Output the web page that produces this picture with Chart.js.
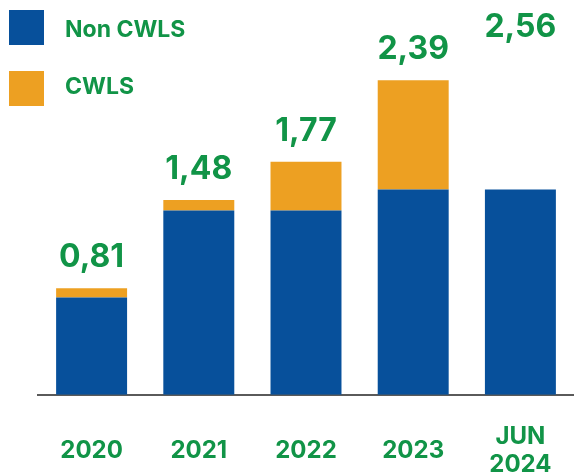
<!DOCTYPE html>
<html>
<head>
<meta charset="utf-8">
<script src="https://cdn.jsdelivr.net/npm/chart.js@4/dist/chart.umd.min.js"></script>
<style>
  html, body { margin: 0; padding: 0; background: #fff; overflow: hidden; width: 574px; height: 472px; }
  #wrap { position: absolute; left: 0; top: 0; width: 574px; height: 534px; }
  #legend { position: absolute; left: 0; top: 0; z-index: 2; font-family: Inter, Roboto, sans-serif; font-weight: 700; font-size: 23px; color: #119447; }
  .item { position: absolute; left: 9px; white-space: nowrap; }
  .sw { position: absolute; left: 0; top: 0; width: 35px; height: 35px; }
  .lbl { position: absolute; left: 56px; line-height: 35px; top: 0; }
</style>
</head>
<body>
<div id="wrap"><canvas id="c"></canvas></div>
<div id="legend"></div>
<script>
const categories = ['2020', '2021', '2022', '2023', ['JUN', '2024']];
const seriesNames = ['Non CWLS', 'CWLS'];
const nonCwls = [0.74, 1.40, 1.40, 1.56, 1.56];
const cwls = [0.07, 0.08, 0.37, 0.83, 1.00];
const totalLabels = ['0,81', '1,48', '1,77', '2,39', '2,56'];

const BLUE = '#07509b';
const ORANGE = '#eda022';
const GREEN = '#119447';

// legend
const legendEl = document.getElementById('legend');
const legendColors = [BLUE, ORANGE];
const legendTops = [10, 71];
const textShift = [2, -2];
seriesNames.forEach((n, i) => {
  const it = document.createElement('div');
  it.className = 'item';
  it.style.top = legendTops[i] + 'px';
  const sw = document.createElement('div');
  sw.className = 'sw';
  sw.style.background = legendColors[i];
  const lb = document.createElement('div');
  lb.className = 'lbl';
  lb.style.top = textShift[i] + 'px';
  lb.textContent = n;
  it.appendChild(sw); it.appendChild(lb);
  legendEl.appendChild(it);
});

const totalsPlugin = {
  id: 'totals',
  afterDatasetsDraw(chart) {
    const ctx = chart.ctx;
    const meta = chart.getDatasetMeta(chart.data.datasets.length - 1);
    ctx.save();
    ctx.font = '700 32px Inter, Roboto, sans-serif';
    ctx.fillStyle = GREEN;
    ctx.textAlign = 'center';
    ctx.textBaseline = 'alphabetic';
    meta.data.forEach((el, i) => {
      ctx.fillText(totalLabels[i], el.x, el.y - 21);
    });
    ctx.restore();
  }
};

new Chart(document.getElementById('c'), {
  type: 'bar',
  data: {
    labels: categories,
    datasets: [
      { label: seriesNames[0], data: nonCwls, backgroundColor: BLUE, borderWidth: 0 },
      { label: seriesNames[1], data: cwls, backgroundColor: [ORANGE, ORANGE, ORANGE, ORANGE, 'rgba(0,0,0,0)'], borderWidth: 0 }
    ]
  },
  options: {
    responsive: true,
    maintainAspectRatio: false,
    animation: false,
    devicePixelRatio: 1,
    layout: { padding: { left: 38, right: 0, top: 0, bottom: 0 } },
    plugins: { legend: { display: false }, tooltip: { enabled: false } },
    datasets: { bar: { barPercentage: 0.662, categoryPercentage: 1 } },
    scales: {
      x: {
        stacked: true,
        grid: { display: false, drawTicks: false },
        border: { display: true, color: '#5a5a5a', width: 2 },
        afterFit(s) { s.paddingLeft = 0; s.paddingRight = 0; },
        ticks: {
          color: GREEN,
          font: { family: 'Inter, Roboto, sans-serif', weight: '700', size: 24, lineHeight: 1.15 },
          padding: 42,
          crossAlign: 'center',
          maxRotation: 0,
          autoSkip: false
        }
      },
      y: {
        stacked: true,
        display: false,
        min: 0,
        max: 3
      }
    }
  },
  plugins: [totalsPlugin]
});
</script>
</body>
</html>
